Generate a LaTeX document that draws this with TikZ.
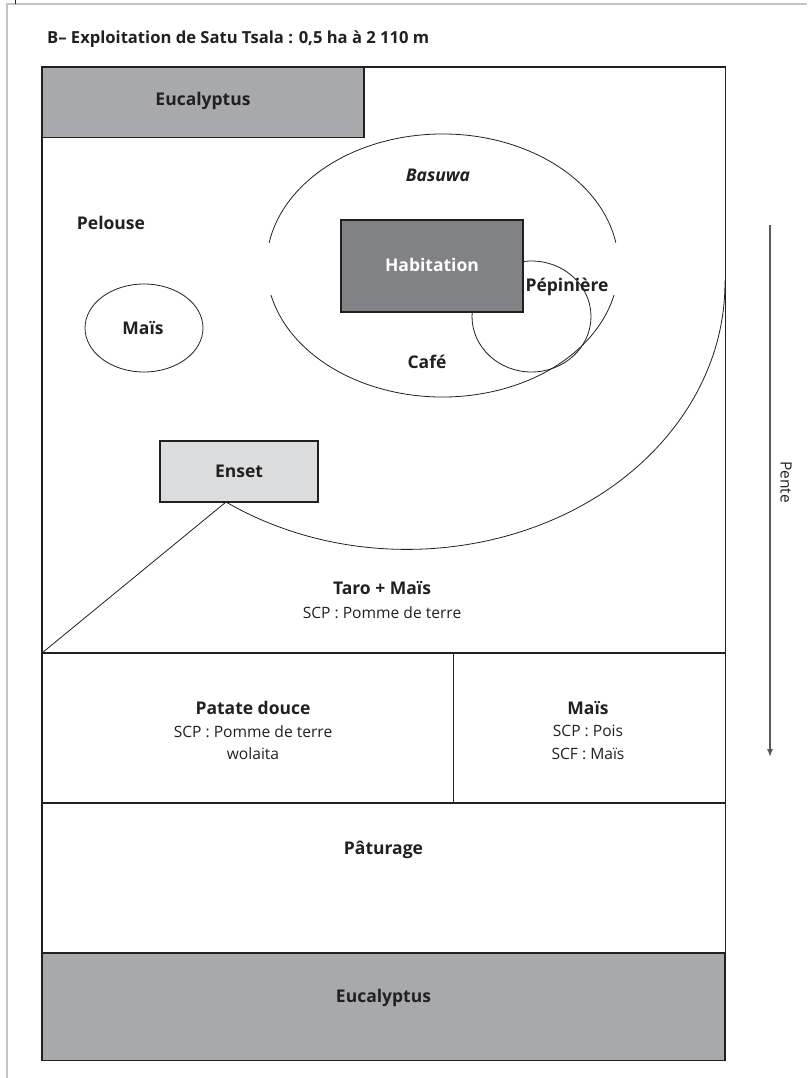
\documentclass[tikz,border=0pt]{standalone}
\usepackage{fontspec}
\setmainfont{Open Sans}
\usetikzlibrary{arrows.meta,shapes.geometric}
\definecolor{ink}{HTML}{231F20}
\definecolor{eucgray}{HTML}{A7A9AC}
\definecolor{habgray}{HTML}{808285}
\definecolor{ensgray}{HTML}{DCDDDE}
\definecolor{pagegray}{HTML}{C4C4C4}
\definecolor{arrowgray}{HTML}{58595B}
\tikzset{
  boxnode/.style={draw=ink, line width=1.2pt, inner sep=0pt, outer sep=0pt},
  lbl/.style={font=\bfseries\fontsize{17.5}{21}\selectfont, text=ink, inner sep=0pt},
  blocklbl/.style={font=\fontsize{15.6}{22.5}\selectfont, text=ink, align=center, inner sep=0pt},
  thinline/.style={draw=ink, line width=0.8pt},
  sepline/.style={draw=ink, line width=1.8pt},
}
\begin{document}
\begin{tikzpicture}[x=1pt,y=-1pt]
\useasboundingbox (0,0) rectangle (807,1078);
% page frame
\draw[pagegray, line width=1.6pt] (7,1078) -- (7,4) -- (807,4);
\draw[ink, line width=0.9pt] (15,0) -- (15,4.5);
% title
\node[anchor=base west, font=\bfseries\fontsize{16.6}{20}\selectfont, text=ink, inner sep=0pt] (title) at (47,44) {B– Exploitation de Satu Tsala : 0,5 ha à 2 110 m};

% top eucalyptus
\node[boxnode, fill=eucgray, minimum width=322pt, minimum height=70.5pt] (euctop) at (203,102.25) {};
\node[lbl] (euctoplbl) at (203,101) {Eucalyptus};

% Pelouse and Maïs ellipse
\node[lbl] (pelouse) at (111,223) {Pelouse};
\node[draw=ink, line width=0.8pt, ellipse, minimum width=118pt, minimum height=88pt, inner sep=0pt] (maisell) at (144,328) {};
\node[lbl] (maislbl) at (143,328) {Maïs};

% Basuwa ellipse (two arcs with gaps)
\draw[thinline] ({442.5+176*cos(10)},{265.5-131.5*sin(10)}) arc[start angle=10, end angle=170, x radius=176pt, y radius=131.5pt];
\draw[thinline] ({442.5+176*cos(193)},{265.5-131.5*sin(193)}) arc[start angle=193, end angle=347, x radius=176pt, y radius=131.5pt];
\node[font=\bfseries\itshape\fontsize{17.5}{21}\selectfont, text=ink, inner sep=0pt] (basuwa) at (438,175) {Basuwa};
\node[lbl] (cafe) at (427,362) {Café};

% Pépinière circle
\node[draw=ink, line width=0.8pt, ellipse, minimum width=119pt, minimum height=111pt, inner sep=0pt] (pepcircle) at (531.5,316.5) {};
% Habitation
\node[boxnode, fill=habgray, minimum width=182pt, minimum height=92pt] (habitation) at (432,266) {};
\node[lbl, text=white] (hablbl) at (432,265) {Habitation};
\node[lbl] (peplbl) at (567,287) {Pépinière};

% Enset
\node[boxnode, fill=ensgray, minimum width=158pt, minimum height=61pt] (enset) at (239,471.5) {};
\node[lbl] (enslbl) at (239,471) {Enset};

% big curve and diagonal
\coordinate (ensetpt) at ([xshift=-13pt]enset.south);
\coordinate (taroSW) at (42,653);
\draw[thinline] (ensetpt) arc[start angle=-124.69, end angle=0.5, x radius=318pt, y radius=266.5pt];
\draw[thinline] (ensetpt) -- (taroSW);

% Taro + Maïs
\node[blocklbl] (taro) at (382,600.5) {\textbf{\fontsize{17.5}{21}\selectfont Taro + Maïs}\\[1.5pt]SCP : Pomme de terre};

% separators
\coordinate (L1) at (42,653);
\coordinate (R1) at (725,653);
\coordinate (L2) at (42,803);
\coordinate (R2) at (725,803);
\coordinate (D1) at (453,653);
\coordinate (D2) at (453,803);
\draw[sepline] (L1) -- (R1);
\draw[sepline] (L2) -- (R2);
\draw[draw=ink, line width=0.9pt] (D1) -- (D2);

\node[blocklbl] (patate) at (253,730.5) {\textbf{\fontsize{17.5}{21}\selectfont Patate douce}\\SCP : Pomme de terre\\wolaita};
\node[blocklbl] (maisR) at (588,730.5) {\textbf{\fontsize{17.5}{21}\selectfont Maïs}\\SCP : Pois\\SCF : Maïs};

% Pâturage
\node[lbl] (paturage) at (383.5,850) {Pâturage};

% bottom eucalyptus
\node[boxnode, fill=eucgray, minimum width=683pt, minimum height=107.5pt] (eucbot) at (383.5,1006.75) {};
\node[lbl] (eucbotlbl) at (383.5,998) {Eucalyptus};

% outer frame
\node[boxnode, line width=1.3pt, minimum width=683.5pt, minimum height=993.5pt] (frame) at (383.75,563.75) {};

% Pente arrow
\coordinate (pa) at (770,225);
\coordinate (pb) at (770,757);
\draw[arrowgray, line width=1.3pt, -{Latex[length=8pt,width=6pt]}] (pa) -- (pb);
\node[rotate=-90, font=\fontsize{15.5}{18}\selectfont, text=ink, inner sep=0pt] (pente) at (786,482) {Pente};
\end{tikzpicture}
\end{document}
